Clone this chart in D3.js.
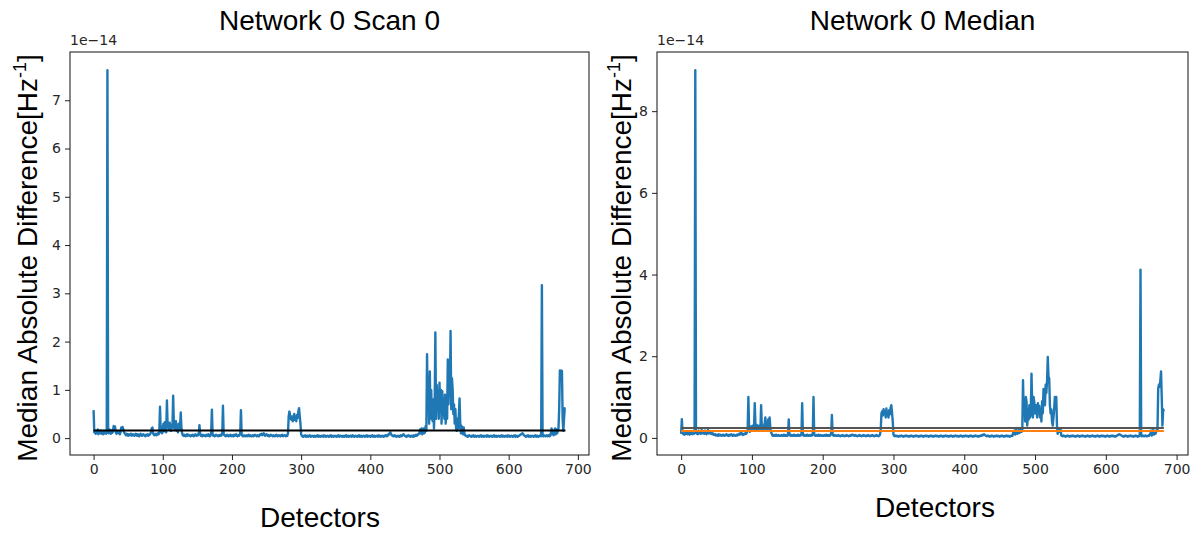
<!DOCTYPE html>
<html><head><meta charset="utf-8">
<script src="https://cdn.jsdelivr.net/npm/d3@7"></script>
<style>body{margin:0;background:#fff}</style></head>
<body><svg id="c" width="1193" height="535"></svg>
<script>
// values in units of 1e-16 Hz^-1, one per detector (index = detector number)
const scan0 = [
58,12,15,9,14,10,18,8,13,11,16,9,12,14,8,15,10,13,9,11,
762,14,10,18,12,9,16,11,14,25,22,24,12,9,15,11,10,13,8,12,
22,20,23,18,12,10,8,6,9,7,5,8,6,7,9,5,6,8,7,5,
6,9,7,5,8,6,4,7,9,6,5,7,8,6,5,4,7,6,8,5,
6,7,9,12,20,22,10,7,6,8,9,6,7,10,8,12,65,12,18,10,
22,30,14,33,20,12,78,25,30,18,32,20,15,28,22,88,30,18,20,35,
15,22,12,30,18,25,53,20,10,6,5,7,5,4,6,8,5,7,6,5,
4,6,5,7,6,4,5,8,6,5,7,6,8,27,10,5,6,4,7,5,
6,5,4,7,6,5,8,6,4,5,10,59,8,5,6,4,5,7,6,5,
4,6,5,7,5,6,10,67,9,6,5,4,6,7,5,4,6,5,7,4,
5,6,4,7,5,6,8,5,4,6,5,7,9,58,7,5,4,6,5,4,
5,6,4,5,7,4,6,5,4,5,6,4,5,7,6,5,4,6,5,4,
6,8,7,9,6,8,10,7,5,6,8,7,5,6,4,5,7,6,5,4,
6,5,4,5,7,6,4,5,6,5,4,6,5,7,4,5,6,5,4,6,
5,10,45,55,48,40,38,45,35,42,50,38,40,35,48,42,55,62,45,30,
8,5,4,3,5,4,6,3,4,5,3,4,6,5,3,4,5,4,3,5,
4,3,5,4,6,3,4,5,3,4,5,4,3,6,4,5,3,4,5,4,
3,5,4,6,3,4,5,3,4,5,4,3,5,4,6,3,4,5,4,3,
5,4,3,5,4,6,3,4,5,3,4,5,4,3,6,4,5,3,4,5,
4,3,5,4,6,3,4,5,3,4,5,4,3,5,4,6,3,4,5,4,
3,5,4,6,3,4,5,3,4,5,4,3,6,4,5,3,4,5,4,3,
5,4,6,5,4,7,6,8,10,12,8,6,5,4,5,6,4,5,3,4,
5,4,3,5,6,4,5,7,8,6,5,4,3,5,4,6,5,4,3,5,
4,5,3,6,4,5,7,5,6,8,8,12,18,10,20,8,15,20,10,12,
25,15,174,60,120,30,138,40,100,50,35,80,20,60,219,40,110,70,95,40,
115,60,100,30,97,50,80,40,90,30,70,40,163,70,120,90,222,60,124,100,
50,70,30,60,20,15,40,20,50,82,30,10,25,20,8,22,10,6,5,4,
5,3,4,6,5,4,3,5,4,6,3,4,5,3,4,5,4,3,5,4,
6,3,4,5,3,4,5,4,3,6,4,5,3,4,5,4,3,5,4,6,
3,4,5,3,4,5,4,3,5,4,6,3,4,5,3,4,5,4,3,6,
4,5,3,4,5,4,3,5,4,6,3,4,5,3,4,5,6,7,8,9,
10,8,6,5,4,3,5,4,6,3,4,5,3,4,5,4,3,5,4,6,
3,4,5,3,4,5,6,4,317,5,4,6,5,4,5,6,4,5,6,4,
5,10,20,8,15,6,12,20,8,18,10,14,20,60,140,138,140,139,40,15,
40,62,62];

const median0 = [
10,46,12,9,11,8,13,10,12,9,14,11,8,12,10,13,9,11,10,12,
900,12,10,14,9,18,12,15,10,20,13,11,16,10,18,12,9,14,20,11,
15,12,10,13,9,11,8,7,9,6,8,7,5,9,6,8,7,5,6,8,
7,5,6,8,9,6,7,5,8,6,7,9,6,5,8,7,6,5,7,8,
6,9,10,8,12,15,9,7,8,10,9,12,10,14,20,100,22,15,28,18,
25,30,18,22,85,28,20,32,18,25,30,22,18,80,25,20,30,22,35,50,
20,28,18,45,22,50,25,15,10,6,5,7,6,5,8,6,5,7,6,5,
6,5,7,6,5,8,6,5,7,6,5,8,45,10,6,5,7,6,5,8,
6,5,7,6,5,8,6,5,7,6,8,85,10,6,5,7,6,5,8,6,
5,7,6,5,8,6,10,100,8,6,5,7,6,5,8,6,5,7,6,5,
6,5,7,6,5,8,6,5,7,6,5,8,10,56,8,6,5,7,6,5,
6,5,7,6,5,4,6,5,7,6,5,4,6,5,7,6,5,4,6,5,
7,6,8,7,6,5,7,6,5,4,6,5,7,6,5,4,6,5,7,6,
5,4,6,5,7,6,5,4,6,5,7,6,5,4,6,5,7,6,5,4,
6,8,20,60,65,55,70,60,65,50,72,55,62,50,68,58,75,80,60,40,
8,5,4,6,5,4,5,3,4,5,4,6,5,4,3,5,4,5,6,4,
5,4,3,5,4,6,5,4,3,5,4,5,6,4,5,4,3,5,4,6,
5,4,3,5,4,5,6,4,5,4,3,5,4,6,5,4,3,5,4,5,
6,4,5,4,3,5,4,6,5,4,3,5,4,5,6,4,5,4,3,5,
4,6,5,4,3,5,4,5,6,4,5,4,3,5,4,6,5,4,3,5,
4,5,6,4,5,4,3,5,4,6,5,4,3,5,4,5,6,4,5,4,
3,5,4,6,5,7,6,8,9,7,6,5,4,6,5,4,3,5,4,6,
5,4,3,5,4,5,6,4,5,4,3,5,4,6,5,4,3,5,4,5,
6,4,5,4,3,5,4,6,5,12,10,18,8,20,14,10,18,20,12,15,
20,15,18,141,60,90,40,100,88,30,70,45,80,50,60,157,80,50,100,85,
60,80,75,50,85,60,78,50,70,40,90,60,120,100,80,130,110,140,198,150,
146,80,60,70,40,30,50,70,100,80,100,30,10,24,20,15,24,6,5,4,
6,5,4,3,5,4,6,5,4,3,5,4,5,6,4,5,4,3,5,4,
6,5,4,3,5,4,5,6,4,5,4,3,5,4,6,5,4,3,5,4,
5,6,4,5,4,3,5,4,6,5,4,3,5,4,5,6,4,5,4,3,
5,4,6,5,4,3,5,4,5,6,4,5,4,3,5,4,6,7,8,9,
8,7,6,5,4,3,5,4,6,5,4,3,5,4,5,6,4,5,4,3,
5,4,6,5,4,3,5,4,6,412,5,4,6,5,4,5,6,4,5,4,
6,5,8,10,18,6,12,20,8,15,10,14,20,18,120,130,125,140,163,100,
30,70,65];

// horizontal reference levels (units of 1e-16)
const scan0Level = [16];
const medianLevels = [24, 17];

const xTicks = [0,100,200,300,400,500,600,700];
const leftYTicks = [0,1,2,3,4,5,6,7];
const rightYTicks = [0,2,4,6,8];
const UNIT = 1e-16, EXP = 1e-14;

const svg = d3.select('#c');
const sans = "'Liberation Sans', Arial, sans-serif";
const tickFont = "'DejaVu Sans', sans-serif";

function panel(o){
  const g = svg.append('g');
  const n = o.data.length - 1;
  const x = d3.scaleLinear().domain([0 - 0.05*n, n + 0.05*n]).range([o.x0, o.x1]);
  const vals = o.data.map(v => v*UNIT);
  const mn = d3.min(vals), mx = d3.max(vals), r = mx - mn;
  const y = d3.scaleLinear().domain([mn - 0.05*r, mx + 0.05*r]).range([o.y1, o.y0]);

  const clipId = 'clip' + o.id;
  svg.append('clipPath').attr('id', clipId).append('rect')
    .attr('x', o.x0).attr('y', o.y0).attr('width', o.x1-o.x0).attr('height', o.y1-o.y0);

  const line = d3.line().x((d,i)=>x(i)).y(d=>y(d));
  g.append('path').datum(vals).attr('d', line).attr('clip-path', `url(#${clipId})`)
    .attr('fill','none').attr('stroke','#1f77b4').attr('stroke-width',2.4).attr('stroke-linejoin','round');

  o.levels.forEach((lv, k) => {
    g.append('path').datum([lv*UNIT, lv*UNIT]).attr('d', d3.line().x((d,i)=>x(i*n)).y(d=>y(d)))
      .attr('fill','none').attr('stroke', o.levelColors[k]).attr('stroke-width',2);
  });

  const xa = g.append('g').attr('transform',`translate(0,${o.y1})`)
    .call(d3.axisBottom(x).tickValues(xTicks).tickSize(5).tickPadding(4).tickFormat(d3.format('d')));
  const ya = g.append('g').attr('transform',`translate(${o.x0},0)`)
    .call(d3.axisLeft(y).tickValues(o.yTicks.map(t=>t*EXP)).tickSize(5).tickPadding(4).tickFormat(d=>Math.round(d/EXP)));
  [xa, ya].forEach(a => {
    a.select('.domain').remove();
    a.selectAll('line').attr('stroke','#222');
    a.selectAll('text').attr('fill','#262626').style('font-family', tickFont).style('font-size','14px');
  });

  g.append('rect').attr('x',o.x0).attr('y',o.y0).attr('width',o.x1-o.x0).attr('height',o.y1-o.y0)
    .attr('fill','none').attr('stroke','#111').attr('stroke-width',1);

  g.append('text').attr('x',o.x0).attr('y',o.y0-7).text('1e\u221214')
    .attr('fill','#262626').style('font-family',tickFont).style('font-size','14px');

  g.append('text').attr('x',(o.x0+o.x1)/2).attr('y',30).attr('text-anchor','middle')
    .style('font-family',sans).style('font-size','28px').attr('fill','#000').text(o.title);

  g.append('text').attr('x',o.xlabX).attr('y',o.xlabY).attr('text-anchor','middle')
    .style('font-family',sans).style('font-size','28px').attr('fill','#000').text('Detectors');

  const yl = g.append('text').attr('transform',`translate(${o.ylabX},${o.ylabY}) rotate(-90)`)
    .attr('text-anchor','middle').style('font-family',sans).style('font-size','28px').attr('fill','#000');
  yl.append('tspan').text('Median Absolute Difference[Hz');
  yl.append('tspan').attr('dy',-11).style('font-size','18px').text('-1');
  yl.append('tspan').attr('dy',11).text(']');
}

panel({id:0, data:scan0, levels:scan0Level, levelColors:['#000'], x0:70, x1:589, y0:52, y1:455,
  yTicks:leftYTicks, title:'Network 0 Scan 0', xlabX:320, xlabY:527, ylabX:37, ylabY:258});
panel({id:1, data:median0, levels:medianLevels, levelColors:['#555','#ff7f0e'], x0:657, x1:1188, y0:52, y1:455,
  yTicks:rightYTicks, title:'Network 0 Median', xlabX:935, xlabY:517, ylabX:631, ylabY:258});
</script></body></html>
